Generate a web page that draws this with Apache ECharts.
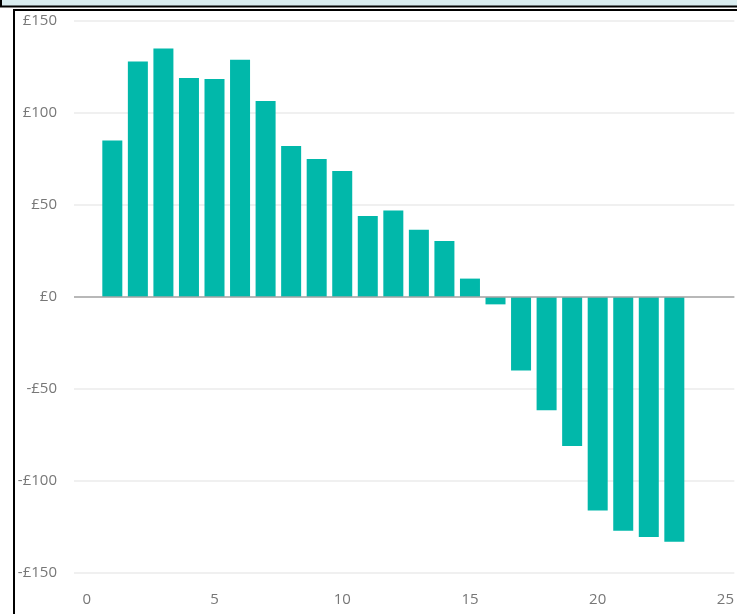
<!DOCTYPE html>
<html>
<head>
<meta charset="utf-8">
<script src="https://cdn.jsdelivr.net/npm/echarts@6/dist/echarts.min.js"></script>
<style>
  html, body { margin: 0; padding: 0; background: #fff; }
  #chart { width: 737px; height: 614px; }
</style>
</head>
<body>
<div id="chart"></div>
<script>
// bar positions and values (£)
var periods = [1, 2, 3, 4, 5, 6, 7, 8, 9, 10, 11, 12, 13, 14, 15, 16, 17, 18, 19, 20, 21, 22, 23];
var amounts = [85, 128, 135, 119, 118.5, 129, 106.5, 82, 75, 68.5, 44, 47, 36.5, 30.5, 10, -4, -40, -61.5, -81, -116, -127, -130.5, -133];
var xTicks = [0, 5, 10, 15, 20, 25];

var myChart = echarts.init(document.getElementById('chart'));

var pairs = periods.map(function (p, i) { return [p, amounts[i]]; });

var option = {
  backgroundColor: '#fff',
  animation: false,
  graphic: [
    // window frame bits at the top / left
    { type: 'rect', shape: { x: 0, y: 0, width: 737, height: 6 }, style: { fill: '#d9edf0' } },
    { type: 'line', shape: { x1: 0, y1: 6.5, x2: 737, y2: 6.5 }, style: { stroke: '#000', lineWidth: 2 } },
    { type: 'line', shape: { x1: 1, y1: 0, x2: 1, y2: 7 }, style: { stroke: '#000', lineWidth: 2 } },
    { type: 'line', shape: { x1: 13, y1: 10, x2: 737, y2: 10 }, style: { stroke: '#000', lineWidth: 2 } },
    { type: 'line', shape: { x1: 14, y1: 10, x2: 14, y2: 614 }, style: { stroke: '#000', lineWidth: 2 } }
  ],
  grid: { left: 74, right: 0, top: 21, bottom: 41, containLabel: false },
  xAxis: {
    type: 'value',
    min: -0.5,
    max: 25.35,
    axisLine: { show: false },
    axisTick: { show: false },
    splitLine: { show: false },
    axisLabel: {
      customValues: xTicks,
      color: '#777',
      fontFamily: 'Open Sans',
      fontSize: 15,
      margin: 19
    }
  },
  yAxis: {
    type: 'value',
    min: -150,
    max: 150,
    interval: 50,
    axisLine: { show: false },
    axisTick: { show: false },
    splitLine: { lineStyle: { color: '#ebebeb', width: 1.5 } },
    axisLabel: {
      color: '#777',
      fontFamily: 'Open Sans',
      fontSize: 15,
      margin: 17,
      formatter: function (v) { return v < 0 ? '-£' + (-v) : '£' + v; }
    }
  },
  series: [{
    type: 'bar',
    data: pairs,
    barWidth: 20,
    itemStyle: { color: '#01b8aa' },
    markLine: {
      silent: true,
      symbol: 'none',
      label: { show: false },
      lineStyle: { color: '#a6a6a6', width: 1.5, type: 'solid' },
      data: [{ yAxis: 0 }]
    }
  }]
};

myChart.setOption(option);
</script>
</body>
</html>
